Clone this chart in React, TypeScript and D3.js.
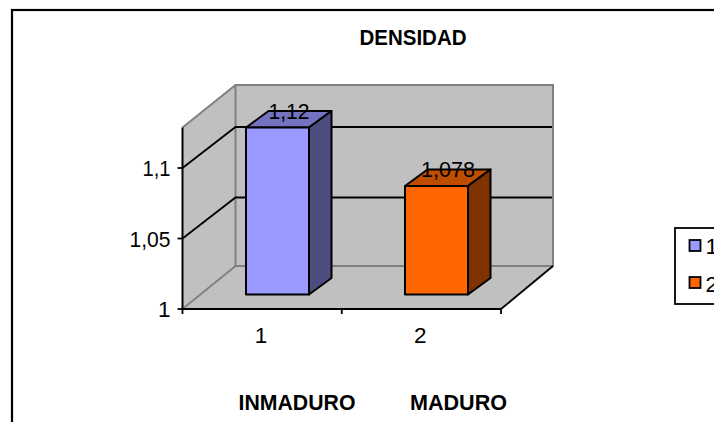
import React from "react";
import * as d3 from "d3";

const title = "DENSIDAD";
const seriesNames = ["1", "2"];
const values = [1.12, 1.078];
const categoryLabels = ["1", "2"];
const groupLabels = ["INMADURO", "MADURO"];
const yTicks = [1, 1.05, 1.1];
const yTickLabels = ["1", "1,05", "1,1"];
const valueLabels = ["1,12", "1,078"];
const frontColors = ["#9999FF", "#FF6600"];
const topColors = ["#7373BF", "#BF4D00"];
const sideColors = ["#4D4D80", "#803300"];

const W = 714, H = 422;
const FONT = "'Liberation Sans', Arial, sans-serif";
const left = 182.5, right = 501, floorY = 309, axisTop = 127.5;
const depthX = 53, depthY = 43, gridDepthY = 41;
const barDX = 22.5, barDY = 16.5, barBase = 294.5;

const y = d3.scaleLinear().domain([1, 1.1]).range([floorY, 168]);
const yBar = d3.scaleLinear().domain([1, 1.12]).range([barBase, 127.5]);
const x = d3.scaleBand<number>().domain([0, 1]).range([left, right]);
const barW = 63;
const barX = (i: number) => (i === 0 ? 246 : 405);
const pts = (a: number[][]) => a.map((p) => p.join(",")).join(" ");
const line = d3.line();

export default function App() {
  return (
    <svg width={W} height={H} viewBox={`0 0 ${W} ${H}`} style={{ position: "absolute", left: 0, top: 0, background: "#fff" }} fontFamily={FONT}>
      <rect x={12} y={10} width={W + 30} height={H + 30} fill="#fff" stroke="#000" strokeWidth={2.2} />
      <text x={413} y={44.5} textAnchor="middle" fontSize={21.5} fontWeight="bold" textLength={107} lengthAdjust="spacingAndGlyphs" fill="#000">{title}</text>

      {/* walls */}
      <polygon points={pts([[left, floorY], [left + depthX, floorY - depthY], [right + depthX - 1, floorY - depthY], [right, floorY]])} fill="#C0C0C0" />
      <polygon points={pts([[left, axisTop], [left + depthX, axisTop - depthY + 0.5], [left + depthX, floorY - depthY], [left, floorY]])} fill="#C0C0C0" />
      <rect x={left + depthX} y={85} width={right + depthX - 1 - left - depthX} height={181} fill="#C0C0C0" />
      <path d={line([[left, axisTop], [left + depthX, 85], [553, 85], [553, 266], [left + depthX, 266], [left + depthX, 85]]) as string} fill="none" stroke="#808080" strokeWidth={2} />
      <path d={line([[left, floorY], [left + depthX, 266]]) as string} fill="none" stroke="#808080" strokeWidth={1.8} />

      {/* gridlines */}
      {yTicks.slice(1).map((t) => (
        <g key={t} fill="none" stroke="#000" strokeWidth={1.8}>
          <path d={line([[left, y(t)], [left + depthX, y(t) - gridDepthY], [552, y(t) - gridDepthY]]) as string} />
        </g>
      ))}

      {/* axes */}
      <path d={line([[right, floorY], [553, 266]]) as string} fill="none" stroke="#000" strokeWidth={1.8} />
      <path d={line([[left, axisTop], [left, floorY], [right, floorY]]) as string} fill="none" stroke="#000" strokeWidth={2} />
      {yTicks.map((t, i) => (
        <g key={t}>
          <line x1={left - 5} x2={left} y1={y(t)} y2={y(t)} stroke="#000" strokeWidth={1.8} />
          <text x={170.5} y={y(t) + 8} textAnchor="end" fontSize={22.5} fontStretch="condensed" textLength={i === 0 ? undefined : i === 1 ? 41 : 28} lengthAdjust="spacingAndGlyphs" fill="#000">{yTickLabels[i]}</text>
        </g>
      ))}
      {[left, (left + right) / 2, right].map((v) => (
        <line key={v} x1={v} x2={v} y1={floorY} y2={floorY + 5} stroke="#000" strokeWidth={1.8} />
      ))}
      {categoryLabels.map((c, i) => (
        <text key={c} x={(x(i) as number) + x.bandwidth() / 2 - 1} y={343} textAnchor="middle" fontSize={22.5} fill="#000">{c}</text>
      ))}
      <text x={297} y={410} textAnchor="middle" fontSize={21.5} fontWeight="bold" textLength={117} lengthAdjust="spacingAndGlyphs" fill="#000">{groupLabels[0]}</text>
      <text x={458.5} y={410} textAnchor="middle" fontSize={21.5} fontWeight="bold" textLength={97} lengthAdjust="spacingAndGlyphs" fill="#000">{groupLabels[1]}</text>

      {/* bars */}
      {values.map((v, i) => {
        const x0 = barX(i), x1 = x0 + barW, yT = yBar(v);
        return (
          <g key={i} stroke="#000" strokeWidth={2} strokeLinejoin="round">
            <polygon points={pts([[x0, yT], [x0 + barDX, yT - barDY], [x1 + barDX, yT - barDY], [x1, yT]])} fill={topColors[i]} />
            <polygon points={pts([[x1, yT], [x1 + barDX, yT - barDY], [x1 + barDX, barBase - barDY], [x1, barBase]])} fill={sideColors[i]} />
            <rect x={x0} y={yT} width={barW} height={barBase - yT} fill={frontColors[i]} />
            <text x={x0 + 43} y={yT - 9} textAnchor="middle" fontSize={22.5} textLength={i === 0 ? 41 : 54} lengthAdjust="spacingAndGlyphs" fill="#000" stroke="none">{valueLabels[i]}</text>
          </g>
        );
      })}

      {/* legend */}
      <rect x={675} y={228} width={60} height={76} fill="#fff" stroke="#000" strokeWidth={1.8} />
      {seriesNames.map((s, i) => (
        <g key={s}>
          <rect x={689.5} y={240 + i * 37} width={11} height={11} fill={frontColors[i]} stroke="#000" strokeWidth={1.8} />
          <text x={705.5} y={254 + i * 37.5} fontSize={22.5} fill="#000">{s}</text>
        </g>
      ))}
    </svg>
  );
}
